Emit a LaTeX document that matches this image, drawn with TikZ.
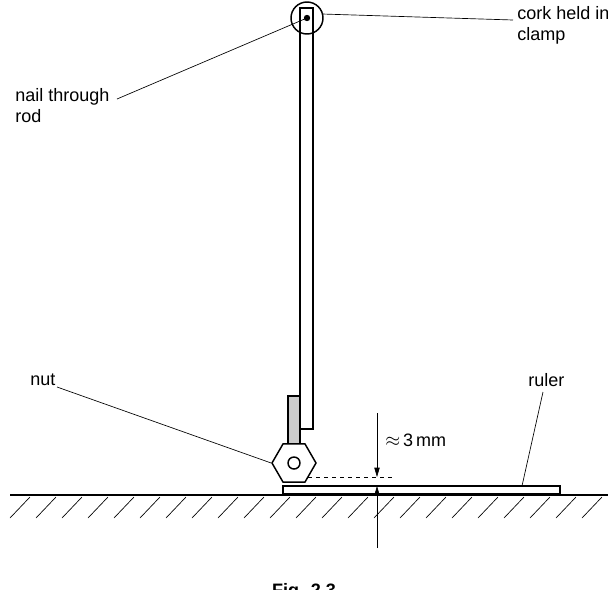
\documentclass[tikz,border=0pt]{standalone}
\usepackage{fontspec}
\setmainfont{Liberation Sans}
\usetikzlibrary{shapes.geometric,arrows.meta}
\begin{document}
\begin{tikzpicture}[x=0.75pt,y=-0.75pt,
 lbl/.style={font=\fontsize{13.5}{16}\selectfont,align=left,inner sep=0pt},
 lead/.style={line width=0.5pt},
 obj/.style={line width=1.1pt}]
\useasboundingbox (0,0) rectangle (608,590);
\clip (0,0) rectangle (608,590);
% hatching
\foreach \x in {10,36,...,600} \draw[line width=0.5pt] (\x,518) -- (\x+20,497);
\draw[obj] (10,495) -- (608,495);
% ruler
\draw[obj,fill=white] (283,486) rectangle (560,494);
% rod
\draw[obj,fill=white] (300,8) rectangle (313,429);
% gray bar
\draw[obj,fill=black!20] (288,396) rectangle (300,449);
% nut
\node[regular polygon,regular polygon sides=6,minimum size=33pt,draw,fill=white,obj,inner sep=0pt] (nut) at (294,463) {};
\draw[obj] (294,463) circle (6);
% cork
\node[circle,draw,obj,minimum size=24pt,inner sep=0pt] (cork) at (307,18) {};
\draw[obj] (300,8) -- (313,8);
\fill (307,18) circle (3.2);
\coordinate (nail) at (307,18);
% dashed level
\draw[dashed,line width=0.6pt] (308,477) -- (395,477);
% dimension arrows
\draw[lead,-{Triangle[length=7pt,width=4pt]}] (377,413) -- (377,477);
\draw[lead,-{Triangle[length=7pt,width=4pt]}] (377,548) -- (377,486);
\node[lbl,anchor=west] (mm) at (385,440) {$\approx$\,3\,mm};
% labels
\node[lbl,anchor=north west] (corkl) at (517,6) {cork held in\\clamp};
\draw[lead] (322,14) -- (513,20);
\node[lbl,anchor=north west] (naill) at (15,88) {nail through\\rod};
\draw[lead] (nail) -- (117,99);
\node[lbl,anchor=west] (nutl) at (30,380) {nut};
\draw[lead] (57,387) -- (nut.west);
\node[lbl,anchor=west] (rulerl) at (528,380) {ruler};
\draw[lead] (543,392) -- (522,486);
\node[font=\bfseries\fontsize{13.5}{16}\selectfont] (fig) at (304,592) {Fig. 2.3};
\end{tikzpicture}
\end{document}
